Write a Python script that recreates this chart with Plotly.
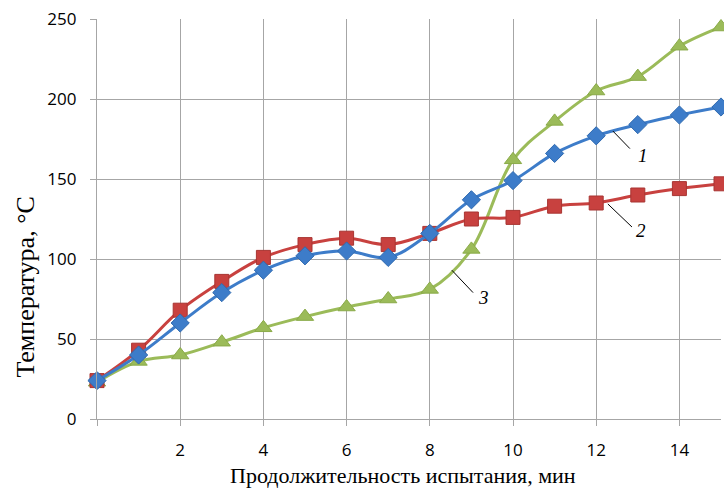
import plotly.graph_objects as go

minutes = [0, 1, 2, 3, 4, 5, 6, 7, 8, 9, 10, 11, 12, 13, 14, 15]
series1 = [24, 40, 60, 79, 93, 102, 105, 101, 116, 137, 149, 166, 177, 184, 190, 195]
series2 = [24, 43, 68, 86, 101, 109, 113, 109, 116, 125, 126, 133, 135, 140, 144, 147]
series3 = [23, 36, 40, 48, 57, 64, 70, 75, 81, 106, 162, 186, 205, 214, 233, 245]

x_ticks = [0, 2, 4, 6, 8, 10, 12, 14]
x_tick_text = ["", "2", "4", "6", "8", "10", "12", "14"]
y_ticks = [0, 50, 100, 150, 200, 250]

x_title = "Продолжительность испытания, мин"
y_title = "Температура, °С"

labels = ["1", "2", "3"]
label_pos = [(13.12, 165), (13.08, 118), (9.28, 76)]
leader_from = [(12.40, 180), (12.28, 134.4), (8.53, 93)]
leader_to = [(12.81, 169), (12.86, 120), (9.04, 79)]

fig = go.Figure()

common = dict(mode="lines+markers", line_shape="spline", cliponaxis=False, showlegend=False,
              hoverinfo="skip")
fig.add_trace(go.Scatter(x=minutes, y=series3, line=dict(color="#9BBB59", width=3),
                         marker=dict(symbol="triangle-up", size=15, color="#9BBB59",
                                     line=dict(color="#8AAA48", width=1)), **common))
fig.add_trace(go.Scatter(x=minutes, y=series2, line=dict(color="#C8413F", width=3),
                         marker=dict(symbol="square", size=14, color="#C8413F",
                                     line=dict(color="#A83532", width=1)), **common))
fig.add_trace(go.Scatter(x=minutes, y=series1, line=dict(color="#3D7CC9", width=3),
                         marker=dict(symbol="diamond", size=14, color="#3D7CC9",
                                     line=dict(color="#2F6AB0", width=1)), **common))

for lab, (tx, ty), (x0, y0), (x1, y1) in zip(labels, label_pos, leader_from, leader_to):
    fig.add_shape(type="line", x0=x0, y0=y0, x1=x1, y1=y1, xref="x", yref="y",
                  line=dict(color="black", width=1))
    fig.add_annotation(x=tx, y=ty, text="<i>" + lab + "</i>", showarrow=False,
                       xref="x", yref="y",
                       font=dict(family="Liberation Serif", size=19, color="black"))

fig.add_annotation(x=0.49, y=-0.142, xref="paper", yref="paper", text=x_title,
                   showarrow=False, xanchor="center", yanchor="middle",
                   font=dict(family="Liberation Serif", size=22, color="black"))
fig.add_annotation(x=-0.116, y=0.33, xref="paper", yref="paper", text=y_title,
                   showarrow=False, xanchor="center", yanchor="middle", textangle=-90,
                   font=dict(family="Liberation Serif", size=26, color="black"))

fig.update_layout(
    width=724, height=488,
    margin=dict(l=97, r=3, t=19, b=69),
    plot_bgcolor="white", paper_bgcolor="white",
    xaxis=dict(range=[0, 15], tickvals=x_ticks, ticktext=x_tick_text,
               showgrid=True, gridcolor="#A6A6A6", gridwidth=1.3,
               showline=True, linecolor="#A6A6A6", linewidth=1.3,
               ticks="outside", ticklen=6, tickcolor="#A6A6A6", tickwidth=1.3,
               zeroline=False, ticklabelstandoff=9,
               tickfont=dict(family="Open Sans", size=17, color="black")),
    yaxis=dict(range=[0, 250], tickvals=y_ticks,
               showgrid=True, gridcolor="#A6A6A6", gridwidth=1.3,
               showline=True, linecolor="#A6A6A6", linewidth=1.3,
               ticks="outside", ticklen=6, tickcolor="#A6A6A6", tickwidth=1.3,
               zeroline=False, ticklabelstandoff=10,
               tickfont=dict(family="Open Sans", size=17, color="black")),
)

fig.write_html("out.html", config={"displayModeBar": False},
               post_script="document.body.style.margin='0';document.body.style.overflow='hidden';")
